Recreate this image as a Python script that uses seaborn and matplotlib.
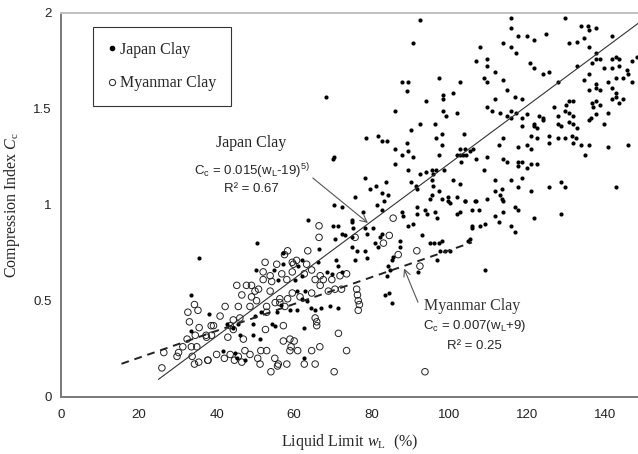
import numpy as np
import pandas as pd
import matplotlib
matplotlib.use("Agg")
import matplotlib.pyplot as plt
from matplotlib.lines import Line2D
import seaborn as sns

# Japan clay: liquid limit wL (%) and compression index Cc
japan_wl = [
    115.9, 115.9, 129.8, 133.9, 135.8, 136.0, 137.7, 117.8, 119.9, 121.9,
    124.8, 141.8, 113.9, 115.9, 117.1, 130.8, 132.8, 134.8, 136.0, 137.7,
    120.8, 121.9, 124.0, 125.7, 132.8, 136.7, 137.7, 138.8, 139.9, 141.8,
    141.8, 142.9, 143.7, 143.7, 145.7, 147.0, 148.4, 111.8, 113.9, 114.8,
    127.9, 134.8, 136.0, 136.0, 137.7, 137.7, 138.8, 140.8, 141.8, 142.9,
    144.8, 145.9, 147.0, 142.9, 142.9, 141.8, 143.7, 144.8, 111.8, 116.9,
    118.8, 113.0, 114.8, 115.9, 117.1, 115.9, 118.8, 119.9, 123.1, 124.0,
    124.0, 127.0, 127.9, 130.0, 130.8, 131.9, 129.8, 130.8, 131.9, 130.8,
    131.9, 132.8, 136.7, 137.1, 137.7, 138.8, 136.5, 137.7, 136.0, 140.8,
    139.9, 118.8, 121.9, 121.9, 122.7, 122.7, 121.0, 125.7, 127.9, 128.8,
    131.7, 132.5, 125.7, 127.9, 129.8, 131.9, 133.9, 136.0, 135.0, 140.8,
    145.9, 113.9, 112.8, 117.8, 119.9, 121.0, 113.9, 114.8, 117.8, 117.8,
    118.8, 119.9, 121.0, 122.7, 115.9, 118.8, 117.8, 121.0, 125.7, 128.8,
    129.8, 142.9, 111.8, 113.6, 111.8, 113.0, 113.6,
    111.8, 112.8, 113.9, 113.9, 115.9, 116.9, 117.8, 116.9, 121.9, 128.8,
    92.4, 90.5, 107.9, 106.9, 109.8, 109.8, 87.7, 89.4, 89.0, 97.4,
    102.7, 108.9, 109.8, 94.0, 98.3, 98.3, 100.8, 86.0, 98.3, 99.1,
    101.9, 109.8, 110.9, 92.4, 90.1, 96.3, 78.5, 81.5, 82.5, 83.8,
    98.0, 96.5, 103.8, 98.0, 86.0, 89.0, 89.4, 87.7, 90.7, 97.4,
    101.9, 102.7, 103.4, 104.4, 102.7, 104.0, 105.3, 106.0, 102.9, 106.9,
    109.8, 86.1, 89.2, 92.4, 94.0, 95.4, 96.5, 95.7, 98.6, 108.9,
    78.2, 79.5, 81.1, 83.7, 82.5, 84.3, 83.2, 75.7, 90.1, 91.4,
    91.6, 95.4, 95.7, 95.4, 95.0, 97.4, 98.0, 99.7, 99.7, 100.8,
    102.7, 102.0, 104.0, 106.9, 109.8,
    77.8, 81.3, 82.5, 87.7, 88.1, 91.6, 91.6, 93.7, 94.1, 96.3,
    96.7, 100.2, 101.9, 102.7, 104.0, 105.7, 107.5, 106.6, 105.7, 105.7,
    107.9, 109.2, 89.4, 90.7, 92.9, 95.0, 95.9, 97.2, 98.0, 97.6,
    98.9, 100.2, 104.9, 105.3, 74.8, 75.2, 78.2, 78.7, 80.4, 82.1,
    82.5, 80.8, 81.7, 87.3, 87.3, 76.1, 78.2, 75.7, 78.7, 85.1,
    85.5, 84.3, 84.7, 83.8, 92.0, 96.7, 109.2, 83.4, 84.5, 85.1,
    70.3, 72.2, 74.8, 70.1, 71.4, 72.2, 70.5, 73.1, 74.8, 74.8,
    50.3, 63.5, 66.4, 57.2, 50.2, 54.9, 57.2, 61.9, 61.1, 66.2,
    70.9, 71.4, 72.2, 68.4, 69.7, 55.9, 60.2, 61.9, 60.6, 62.8,
    63.2, 62.1, 64.3, 65.4, 66.9, 69.2, 71.4, 58.9, 60.6, 55.5,
    56.6, 51.4, 38.0, 49.9, 54.2, 55.0, 49.5, 42.6, 45.6, 44.3,
    46.0, 49.5, 62.6, 51.2, 45.2, 41.7, 47.3, 62.4, 44.7,
    35.4, 33.5, 33.5, 68.1, 70.3, 70.1,
]
japan_cc = [
    1.97, 1.92, 1.97, 1.93, 1.93, 1.91, 1.92, 1.88, 1.88, 1.86,
    1.89, 1.88, 1.84, 1.82, 1.79, 1.84, 1.85, 1.87, 1.82, 1.79,
    1.74, 1.71, 1.68, 1.69, 1.72, 1.74, 1.76, 1.76, 1.71, 1.71,
    1.76, 1.77, 1.76, 1.72, 1.70, 1.75, 1.77, 1.69, 1.65, 1.60,
    1.64, 1.65, 1.68, 1.60, 1.63, 1.61, 1.60, 1.64, 1.61, 1.66,
    1.66, 1.68, 1.64, 1.58, 1.56, 1.55, 1.53, 1.55, 1.55, 1.56,
    1.55, 1.48, 1.46, 1.49, 1.48, 1.45, 1.45, 1.47, 1.46, 1.45,
    1.44, 1.51, 1.46, 1.52, 1.54, 1.54, 1.49, 1.48, 1.46, 1.43,
    1.42, 1.40, 1.53, 1.51, 1.54, 1.52, 1.45, 1.47, 1.44, 1.48,
    1.42, 1.41, 1.42, 1.41, 1.40, 1.35, 1.36, 1.36, 1.42, 1.41,
    1.36, 1.35, 1.32, 1.35, 1.35, 1.32, 1.31, 1.31, 1.26, 1.30,
    1.31, 1.35, 1.31, 1.30, 1.31, 1.29, 1.24, 1.22, 1.22, 1.20,
    1.22, 1.19, 1.21, 1.21, 1.13, 1.14, 1.09, 1.07, 1.09, 1.12,
    1.09, 1.09, 1.13, 1.08, 1.07, 1.05, 1.03,
    0.94, 0.91, 0.96, 1.02, 0.89, 0.99, 0.97, 0.86, 0.93, 0.95,
    1.96, 1.84, 1.82, 1.75, 1.76, 1.72, 1.64, 1.64, 1.59, 1.66,
    1.64, 1.66, 1.64, 1.54, 1.57, 1.55, 1.58, 1.49, 1.49, 1.46,
    1.48, 1.51, 1.49, 1.42, 1.39, 1.42, 1.35, 1.36, 1.33, 1.33,
    1.37, 1.35, 1.37, 1.31, 1.29, 1.32, 1.28, 1.26, 1.25, 1.26,
    1.26, 1.26, 1.26, 1.26, 1.29, 1.29, 1.28, 1.29, 1.22, 1.24,
    1.25, 1.21, 1.18, 1.16, 1.17, 1.18, 1.18, 1.16, 1.18, 1.18,
    1.14, 1.08, 1.10, 1.12, 1.06, 1.05, 1.02, 1.04, 1.12, 1.10,
    1.08, 1.13, 1.10, 1.05, 1.03, 1.07, 1.03, 1.04, 1.02, 1.13,
    1.11, 1.04, 1.02, 1.02, 1.03,
    0.96, 1.00, 0.97, 0.96, 0.94, 0.99, 0.95, 0.97, 0.95, 0.96,
    0.93, 1.01, 0.95, 0.96, 1.02, 0.97, 0.97, 1.02, 0.89, 0.88,
    0.89, 0.90, 0.89, 0.90, 0.84, 0.80, 0.80, 0.80, 0.81, 0.76,
    0.76, 0.76, 0.81, 0.82, 0.92, 0.88, 0.88, 0.85, 0.88, 0.83,
    0.85, 0.80, 0.78, 0.81, 0.78, 0.76, 0.76, 0.71, 0.72, 0.71,
    0.73, 0.68, 0.66, 0.63, 0.65, 0.71, 0.66, 0.53, 0.54, 0.49,
    1.00, 0.99, 0.91, 0.89, 0.89, 0.85, 0.82, 0.84, 0.83, 0.78,
    0.80, 0.92, 0.77, 0.75, 0.66, 0.66, 0.69, 0.71, 0.68, 0.70,
    0.71, 0.68, 0.65, 0.65, 0.64, 0.61, 0.61, 0.63, 0.55, 0.55,
    0.50, 0.51, 0.46, 0.45, 0.46, 0.47, 0.46, 0.45, 0.45, 0.44,
    0.48, 0.44, 0.43, 0.42, 0.38, 0.37, 0.38, 0.38, 0.38, 0.36,
    0.32, 0.32, 0.36, 0.30, 0.20, 0.24, 0.19, 0.20, 0.23,
    0.72, 0.53, 0.34, 1.56, 1.25, 1.24,
]

# Myanmar clay: liquid limit wL (%) and compression index Cc
myanmar_wl = [
    75.7, 83.0, 84.5, 85.5, 86.8, 91.6, 92.4, 76.1, 76.3, 76.5,
    76.8, 76.5, 93.7, 58.3, 57.5, 63.5, 66.4, 66.4, 52.5, 55.5,
    59.5, 60.6, 59.8, 63.2, 52.0, 53.8, 56.8, 59.5, 62.6, 64.5,
    66.7, 65.4, 67.5, 69.7, 71.8, 73.5, 72.2, 70.5, 68.8, 66.7,
    52.0, 54.2, 58.1, 45.2, 47.7, 49.0, 50.8, 49.9, 46.5, 49.0,
    50.3, 53.8, 56.3, 58.3, 59.5, 61.5, 64.5, 56.3, 57.6, 55.1,
    52.9, 52.9, 48.6, 45.6, 42.2, 40.9, 46.0, 44.3, 43.5, 39.2,
    38.7, 37.4, 44.3, 46.9, 42.9, 52.6, 57.2, 65.4, 65.8, 65.8,
    71.4, 73.5, 58.9, 60.0, 57.2, 59.2, 60.9, 58.9, 66.6, 64.5,
    40.0, 43.5, 42.0, 44.6, 45.6, 47.3, 48.6, 46.5, 51.4, 52.9,
    50.6, 51.2, 55.0, 55.9, 55.7, 58.1, 62.6, 65.4, 54.0, 70.3,
    37.7, 34.3, 35.2, 32.6, 33.0, 35.5, 38.6, 32.4, 34.5, 37.3,
    31.3, 33.5, 34.9, 30.2, 29.8, 26.4, 33.7, 34.3, 35.4, 37.8,
    25.9,
]
myanmar_cc = [
    0.83, 0.80, 0.84, 0.93, 0.74, 0.76, 0.68, 0.56, 0.53, 0.50,
    0.48, 0.45, 0.13, 0.76, 0.74, 0.76, 0.89, 0.83, 0.70, 0.69,
    0.70, 0.71, 0.69, 0.69, 0.65, 0.63, 0.64, 0.65, 0.64, 0.66,
    0.63, 0.61, 0.61, 0.61, 0.63, 0.64, 0.56, 0.56, 0.55, 0.58,
    0.61, 0.60, 0.61, 0.58, 0.58, 0.58, 0.56, 0.55, 0.53, 0.52,
    0.50, 0.55, 0.51, 0.51, 0.54, 0.52, 0.54, 0.49, 0.47, 0.49,
    0.47, 0.44, 0.47, 0.47, 0.47, 0.42, 0.41, 0.40, 0.37, 0.37,
    0.32, 0.31, 0.35, 0.30, 0.31, 0.35, 0.37, 0.41, 0.39, 0.37,
    0.33, 0.24, 0.30, 0.29, 0.29, 0.26, 0.24, 0.24, 0.26, 0.24,
    0.22, 0.22, 0.20, 0.19, 0.21, 0.24, 0.22, 0.18, 0.24, 0.24,
    0.20, 0.17, 0.20, 0.17, 0.16, 0.17, 0.17, 0.17, 0.13, 0.13,
    0.19, 0.48, 0.45, 0.44, 0.39, 0.36, 0.37, 0.30, 0.32, 0.32,
    0.26, 0.26, 0.26, 0.23, 0.21, 0.23, 0.21, 0.17, 0.18, 0.19,
    0.15,
]

# Fitted relations: Cc = a * (wL + b)
japan_fit = (0.015, -19.0)
myanmar_fit = (0.007, 9.0)
japan_fit_range = (25.0, 150.0)
myanmar_fit_range = (15.5, 105.8)

x_ticks = [0, 20, 40, 60, 80, 100, 120, 140]
y_ticks = [0, 0.5, 1, 1.5, 2]
y_tick_labels = ["0", "0.5", "1", "1.5", "2"]

sns.set_theme(style="white")
plt.rcParams["font.family"] = ["Liberation Serif", "DejaVu Serif"]
plt.rcParams["mathtext.fontset"] = "custom"
plt.rcParams["mathtext.rm"] = "Liberation Serif"
plt.rcParams["mathtext.it"] = "Liberation Serif:italic"

fig = plt.figure(figsize=(6.38, 4.54), dpi=100)
ax = fig.add_axes([0.0962, 0.1262, 0.9038, 0.8458])

japan_df = pd.DataFrame({"wl": japan_wl, "cc": japan_cc})
myanmar_df = pd.DataFrame({"wl": myanmar_wl, "cc": myanmar_cc})

sns.scatterplot(data=myanmar_df, x="wl", y="cc", ax=ax, marker="o", s=22,
                facecolor="none", edgecolor="#222222", linewidth=0.7, zorder=3)
sns.scatterplot(data=japan_df, x="wl", y="cc", ax=ax, marker="o", s=9,
                color="black", edgecolor="black", linewidth=0, zorder=4)

# Regression lines
jx = np.linspace(*japan_fit_range, 50)
jy = japan_fit[0] * (jx + japan_fit[1])
ax.plot(jx, jy, color="#333333", lw=0.8, zorder=5)
mx = np.linspace(*myanmar_fit_range, 50)
my = myanmar_fit[0] * (mx + myanmar_fit[1])
ax.plot(mx, my, color="#222222", lw=1.4, dashes=(4, 3), zorder=5)

ax.set_xlim(0, 148.6)
ax.set_ylim(0, 2)
ax.set_xticks(x_ticks)
ax.set_yticks(y_ticks)
ax.set_yticklabels(y_tick_labels)
for lab in ax.get_xticklabels() + ax.get_yticklabels():
    lab.set_fontfamily("Liberation Sans")
    lab.set_fontsize(9.5)
    lab.set_color("#222222")
ax.tick_params(axis="x", direction="in", length=4, width=0.8, color="#777777", pad=9)
ax.tick_params(axis="y", direction="out", length=4, width=0.8, color="#777777", pad=3)

for side in ["left", "bottom"]:
    ax.spines[side].set_color("#7a7a7a")
    ax.spines[side].set_linewidth(1.4)
ax.spines["top"].set_color("#c0c0c0")
ax.spines["top"].set_linewidth(1.4)
ax.spines["right"].set_visible(False)

ax.set_xlabel(r"Liquid Limit $w_{\mathregular{L}}$  (%)", fontsize=11.5, labelpad=8)
ax.set_ylabel(r"Compression Index $C_{\mathregular{c}}$", fontsize=11.5, labelpad=8)

# Legend
handles = [
    Line2D([], [], marker="o", ls="", ms=3, mfc="black", mec="black"),
    Line2D([], [], marker="o", ls="", ms=4.5, mfc="none", mec="#222222", mew=0.7),
]
leg = ax.legend(handles, ["Japan Clay", "Myanmar Clay"], loc="upper left",
                bbox_to_anchor=(0.055, 0.962), frameon=True, fancybox=False,
                edgecolor="black", fontsize=11.5, handlelength=0.6,
                handletextpad=0.2, borderpad=0.9, labelspacing=1.1,
                borderaxespad=0)
leg.get_frame().set_linewidth(0.8)

# Annotations
eq_font = ["Liberation Sans", "DejaVu Sans"]
ax.text(49.0, 1.32, "Japan Clay", ha="center", va="center", fontsize=11.5)
ax.text(49.0, 1.172,
        r"C$_{\mathregular{c}}$ = 0.015(w$_{\mathregular{L}}$-19)$^{\mathregular{5)}}$",
        ha="center", va="center", fontsize=9.5, family=eq_font,
        math_fontfamily="dejavusans")
ax.text(49.0, 1.082, "R² = 0.67", ha="center", va="center", fontsize=9.5,
        family=eq_font)
ax.annotate("", xy=(79.0, 0.905), xytext=(64.8, 1.139),
            arrowprops=dict(arrowstyle="->", color="#555555", lw=0.8,
                            shrinkA=0, shrinkB=0))

ax.text(105.8, 0.474, "Myanmar Clay", ha="center", va="center", fontsize=11.5,
        color="#333333")
ax.text(106.5, 0.37,
        r"C$_{\mathregular{c}}$ = 0.007(w$_{\mathregular{L}}$+9)",
        ha="center", va="center", fontsize=9.5, family=eq_font,
        math_fontfamily="dejavusans")
ax.text(106.5, 0.266, "R² = 0.25", ha="center", va="center", fontsize=9.5,
        family=eq_font)
ax.annotate("", xy=(88.3, 0.668), xytext=(91.9, 0.492),
            arrowprops=dict(arrowstyle="->", color="#555555", lw=0.8,
                            shrinkA=0, shrinkB=0))

fig.savefig("out.png", dpi=100)
